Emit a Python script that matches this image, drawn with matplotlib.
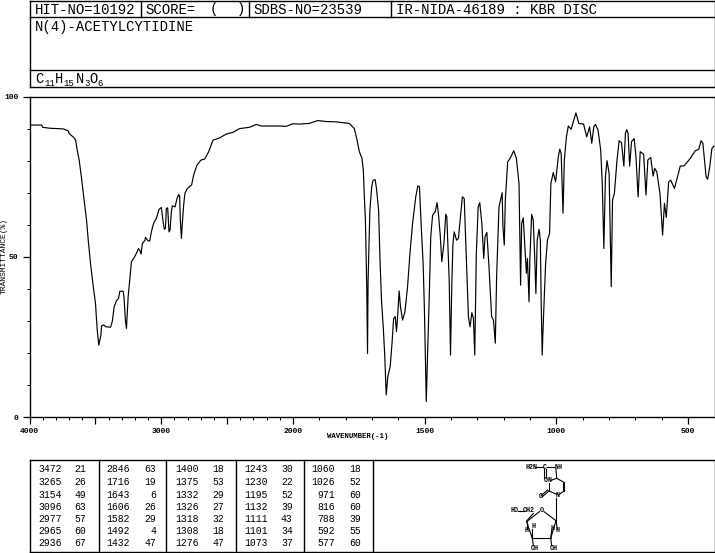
import numpy as np
import matplotlib
matplotlib.use("Agg")
import matplotlib.pyplot as plt

plt.rcParams['font.family'] = ['Liberation Mono', 'DejaVu Sans Mono']

# Spectrum: wavenumber (cm-1) and transmittance (%)
wavenumber = [4000, 3908, 3900, 3845, 3744, 3706, 3698, 3663, 3650, 3638, 3623, 3605, 3587, 3567, 3554, 3537,
              3516, 3499, 3486, 3474, 3466, 3458, 3453, 3436, 3420, 3385, 3372, 3357, 3340, 3324, 3314, 3289,
              3282, 3272, 3264, 3251, 3239, 3226, 3201, 3183, 3173, 3163, 3153, 3143, 3123, 3120, 3100, 3087,
              3075, 3057, 3037, 3017, 2999, 2986, 2976, 2968, 2961, 2951, 2941, 2933, 2923, 2916, 2895, 2880,
              2867, 2860, 2855, 2847, 2840, 2830, 2820, 2802, 2769, 2754, 2729, 2698, 2670, 2640, 2607, 2557,
              2506, 2456, 2405, 2330, 2279, 2241, 2102, 2052, 2000, 1975, 1938, 1906, 1874, 1836, 1786, 1767,
              1758, 1748, 1738, 1733, 1729, 1725, 1720, 1717, 1715, 1708, 1701, 1696, 1688, 1683, 1675, 1670,
              1664, 1657, 1652, 1646, 1640, 1631, 1624, 1618, 1612, 1607, 1602, 1597, 1592, 1584, 1575, 1565,
              1556, 1546, 1534, 1526, 1520, 1513, 1506, 1501, 1494, 1489, 1483, 1477, 1470, 1460, 1453, 1448,
              1441, 1435, 1427, 1420, 1416, 1407, 1402, 1397, 1393, 1388, 1379, 1372, 1363, 1357, 1350, 1343,
              1334, 1328, 1321, 1315, 1310, 1304, 1297, 1291, 1283, 1276, 1271, 1264, 1256, 1246, 1239, 1232,
              1227, 1218, 1206, 1203, 1198, 1194, 1185, 1176, 1162, 1152, 1142, 1136, 1132, 1126, 1119, 1114,
              1110, 1104, 1101, 1094, 1088, 1082, 1078, 1073, 1066, 1061, 1058, 1054, 1049, 1041, 1034, 1026,
              1021, 1012, 1003, 993, 987, 982, 975, 970, 962, 955, 944, 934, 926, 915, 897, 885,
              874, 866, 858, 852, 842, 832, 826, 820, 814, 808, 800, 792, 787, 780, 770, 762,
              753, 744, 738, 733, 728, 722, 715, 705, 698, 690, 682, 669, 660, 653, 642, 633,
              627, 619, 607, 597, 590, 583, 574, 566, 552, 530, 515, 492, 473, 460, 451, 444,
              432, 426, 418, 410, 402]
transmittance = [91.1, 91.1, 90.4, 90.1, 89.9, 89.3, 88.4, 87.2, 86.4, 83.3, 80.2, 74.5, 68.2, 61.5, 55.2, 48.0,
                 40.7, 35.5, 27.2, 22.5, 24.1, 25.6, 28.5, 28.8, 28.2, 28.1, 29.8, 34.5, 36.3, 37.1, 39.3, 39.3,
                 37.1, 30.3, 27.7, 37.6, 42.8, 48.5, 50.1, 51.6, 52.6, 52.1, 50.9, 54.2, 55.2, 56.1, 55.0, 55.0,
                 57.8, 60.6, 62.0, 64.8, 65.4, 61.0, 58.6, 58.9, 65.1, 65.3, 57.8, 58.4, 64.1, 65.9, 65.6, 68.2,
                 69.5, 68.7, 61.5, 55.8, 60.4, 66.1, 69.8, 71.3, 72.5, 75.5, 78.6, 80.2, 80.5, 82.8, 86.4, 87.1,
                 88.3, 88.8, 90.0, 90.4, 91.3, 90.8, 90.8, 90.7, 91.5, 91.4, 91.6, 92.5, 92.2, 92.1, 91.6, 90.0,
                 86.9, 82.8, 80.7, 77.1, 68.7, 61.5, 40.7, 19.9, 42.3, 64.6, 71.9, 73.9, 74.1, 71.3, 64.6, 50.1,
                 36.6, 27.7, 19.9, 7.0, 12.7, 15.8, 23.1, 30.8, 31.4, 26.7, 32.4, 39.4, 34.5, 30.3, 32.9, 40.7,
                 51.1, 60.4, 68.7, 72.1, 71.9, 59.4, 48.0, 33.4, 4.9, 19.9, 36.6, 56.3, 63.0, 64.1, 66.9, 63.6,
                 56.8, 48.5, 54.2, 63.3, 62.5, 42.8, 19.4, 41.7, 53.7, 57.8, 55.2, 55.8, 63.6, 68.7, 68.2, 52.1,
                 31.4, 28.2, 32.6, 30.8, 19.4, 51.1, 65.6, 66.9, 60.4, 49.5, 56.3, 57.6, 46.9, 31.4, 30.3, 23.1,
                 43.8, 65.6, 70.0, 59.4, 53.7, 67.7, 79.6, 80.7, 83.1, 80.7, 72.9, 41.2, 60.4, 62.2, 52.1, 44.9,
                 49.5, 36.0, 49.0, 63.3, 61.5, 49.0, 38.6, 55.2, 58.6, 55.2, 36.6, 19.4, 31.4, 48.0, 55.2, 57.3,
                 72.9, 76.3, 73.4, 81.2, 83.6, 82.2, 63.6, 80.2, 87.4, 90.8, 89.8, 92.6, 94.9, 91.6, 91.4, 87.4,
                 90.6, 85.4, 90.6, 91.3, 89.5, 83.3, 72.9, 52.6, 75.0, 80.0, 76.0, 40.7, 67.7, 69.8, 80.2, 86.2,
                 85.6, 78.3, 88.5, 89.7, 88.5, 78.3, 85.9, 86.9, 81.2, 68.7, 82.8, 82.0, 69.3, 80.2, 81.0, 75.2,
                 77.6, 76.5, 69.8, 56.8, 66.7, 62.3, 73.4, 73.9, 71.3, 78.3, 78.4, 80.7, 83.1, 83.5, 86.2, 85.4,
                 75.0, 74.2, 78.1, 83.8, 84.5]

# Peak table, one list per column
peak_wn = [[3472, 3265, 3154, 3096, 2977, 2965, 2936],
           [2846, 1716, 1643, 1606, 1582, 1492, 1432],
           [1400, 1375, 1332, 1326, 1318, 1308, 1276],
           [1243, 1230, 1195, 1132, 1111, 1101, 1073],
           [1060, 1026, 971, 816, 788, 592, 577]]
peak_t = [[21, 26, 49, 63, 57, 60, 67],
          [63, 19, 6, 26, 29, 4, 47],
          [18, 53, 29, 27, 32, 18, 47],
          [30, 22, 52, 39, 43, 34, 37],
          [18, 52, 60, 60, 39, 55, 60]]

x_labels = [4000, 3000, 2000, 1500, 1000, 500]
x_major = [4000, 3500, 3000, 2500, 2000, 1500, 1000, 500]
y_labels = [0, 50, 100]


def forward(w):
    # the range above 2000 is drawn at half scale
    w = np.asarray(w, dtype=float)
    return np.where(w <= 2000, w, 2000 + (w - 2000) / 2)


def inverse(p):
    p = np.asarray(p, dtype=float)
    return np.where(p <= 2000, p, 2000 + (p - 2000) * 2)


W, H = 715, 553
fig = plt.figure(figsize=(W / 100, H / 100), dpi=100)

# Main spectrum axes
ax = fig.add_axes([29.5 / W, 1 - 417.3 / H, 685 / W, 320.8 / H])
ax.set_xscale('function', functions=(forward, inverse))
ax.set_xlim(4000, 400)
ax.set_ylim(0, 100)
ax.plot(wavenumber, transmittance, color='black', lw=0.85)
ax.set_xticks(x_major)
ax.set_xticklabels([str(v) if v in x_labels else '' for v in x_major], fontsize=5.8, fontweight='bold')
ax.set_xticks(np.arange(500, 4000, 100), minor=True)
ax.set_yticks(y_labels)
ax.set_yticklabels([str(v) for v in y_labels], fontsize=5.8, fontweight='bold')
ax.set_yticks(np.arange(0, 101, 10), minor=True)
ax.tick_params(which='major', length=5, width=0.9, pad=3)
ax.tick_params(which='minor', length=2.5, width=0.7)
for s in ax.spines.values():
    s.set_linewidth(1.0)

# Overlay in pixel coordinates for the boxes, table and structure
ov = fig.add_axes([0, 0, 1, 1], facecolor='none')
ov.set_xlim(0, W)
ov.set_ylim(H, 0)
ov.axis('off')

ov.text(357.5, 437, 'WAVENUMBER(-1)', fontsize=5.3, fontweight='bold', ha='center', va='center')
ov.text(4, 256.5, 'TRANSMITTANCE(%)', fontsize=5.8, rotation=90, ha='center', va='center')


def hline(y, x0=29.5, x1=714.5):
    ov.plot([x0, x1], [y, y], color='black', lw=1.0)


def vline(x, y0, y1):
    ov.plot([x, x], [y0, y1], color='black', lw=1.0)


for y in [0.7, 17, 69.5, 87]:
    hline(y)
vline(29.5, 0.7, 87)
vline(714.5, 0.7, 87)
for x in [141, 248.5, 390.5]:
    vline(x, 0.7, 17)

head = [(35, 'HIT-NO=10192'), (145, 'SCORE='), (210, '('), (237, ')'), (253, 'SDBS-NO=23539'),
        (396, 'IR-NIDA-46189 : KBR DISC')]
for x, s in head:
    ov.text(x, 9.5, s, fontsize=10.1, va='center', ha='left')
ov.text(35, 26.7, 'N(4)-ACETYLCYTIDINE', fontsize=10, va='center', ha='left')

# Molecular formula, letters and subscripts placed one by one
formula_big = [(35, 'C'), (54.5, 'H'), (75.5, 'N'), (89.5, 'O')]
formula_sub = [(44.5, '11'), (63, '15'), (84, '3'), (97.5, '6')]
for x, s in formula_big:
    ov.text(x, 78.7, s, fontsize=9.8, va='center', ha='left')
for x, s in formula_sub:
    ov.text(x, 84, s, fontsize=6.5, va='center', ha='left')

# Peak table
hline(460)
hline(552)
for x in [29.5, 98.5, 166, 235.5, 303.5, 372.5, 714.5]:
    vline(x, 460, 552)
row_y = [469.3, 482, 494.7, 506.7, 519.3, 531.3, 543.3]
wn_right = [62, 130, 199, 267.5, 335]
t_right = [86, 156, 224, 292.7, 361]
for c in range(5):
    for r in range(7):
        ov.text(wn_right[c], row_y[r], str(peak_wn[c][r]), fontsize=7, ha='right', va='center')
        ov.text(t_right[c], row_y[r], str(peak_t[c][r]), fontsize=7, ha='right', va='center')

# Structure drawing, zoomed-crop coordinates of the bonds
bonds = [(497, 37, 518, 37), (532, 37, 552, 37), (523, 42, 523, 70), (527, 42, 527, 70), (558, 42, 560, 70),
         (543, 76, 560, 70), (560, 70, 582, 82), (582, 82, 582, 108), (578, 84, 578, 106), (582, 108, 568, 118),
         (560, 118, 537, 108), (537, 108, 537, 85), (537, 108, 517, 125), (533, 105, 514, 121), (558, 128, 558, 197),
         (522, 170, 558, 197), (508, 170, 470, 200), (470, 200, 487, 250), (487, 250, 542, 250), (542, 250, 558, 197),
         (445, 168, 463, 168), (490, 175, 470, 198), (487, 250, 487, 222), (470, 200, 470, 222), (542, 250, 546, 222),
         (558, 197, 562, 222), (487, 250, 490, 272), (542, 250, 545, 272)]
for x0, y0, x1, y1 in bonds:
    ov.plot([370 + x0 / 3, 370 + x1 / 3], [455 + y0 / 3, 455 + y1 / 3], color='black', lw=0.8)
atoms = [(484, 37, 'H2N'), (525, 37, 'C'), (566, 37, 'NH'), (526, 75, 'O'), (538, 78, 'N'), (512, 126, 'O'),
         (564, 122, 'N'), (515, 165, 'O'), (434, 168, 'HO'), (477, 168, 'CH2'), (490, 215, 'H'), (470, 228, 'H'),
         (547, 220, 'H'), (563, 228, 'H'), (493, 280, 'OH'), (550, 280, 'OH')]
for x, y, s in atoms:
    ov.text(370 + x / 3, 455 + y / 3, s, fontsize=4.8, ha='center', va='center', fontweight='bold')

fig.savefig('out.png', dpi=100)
